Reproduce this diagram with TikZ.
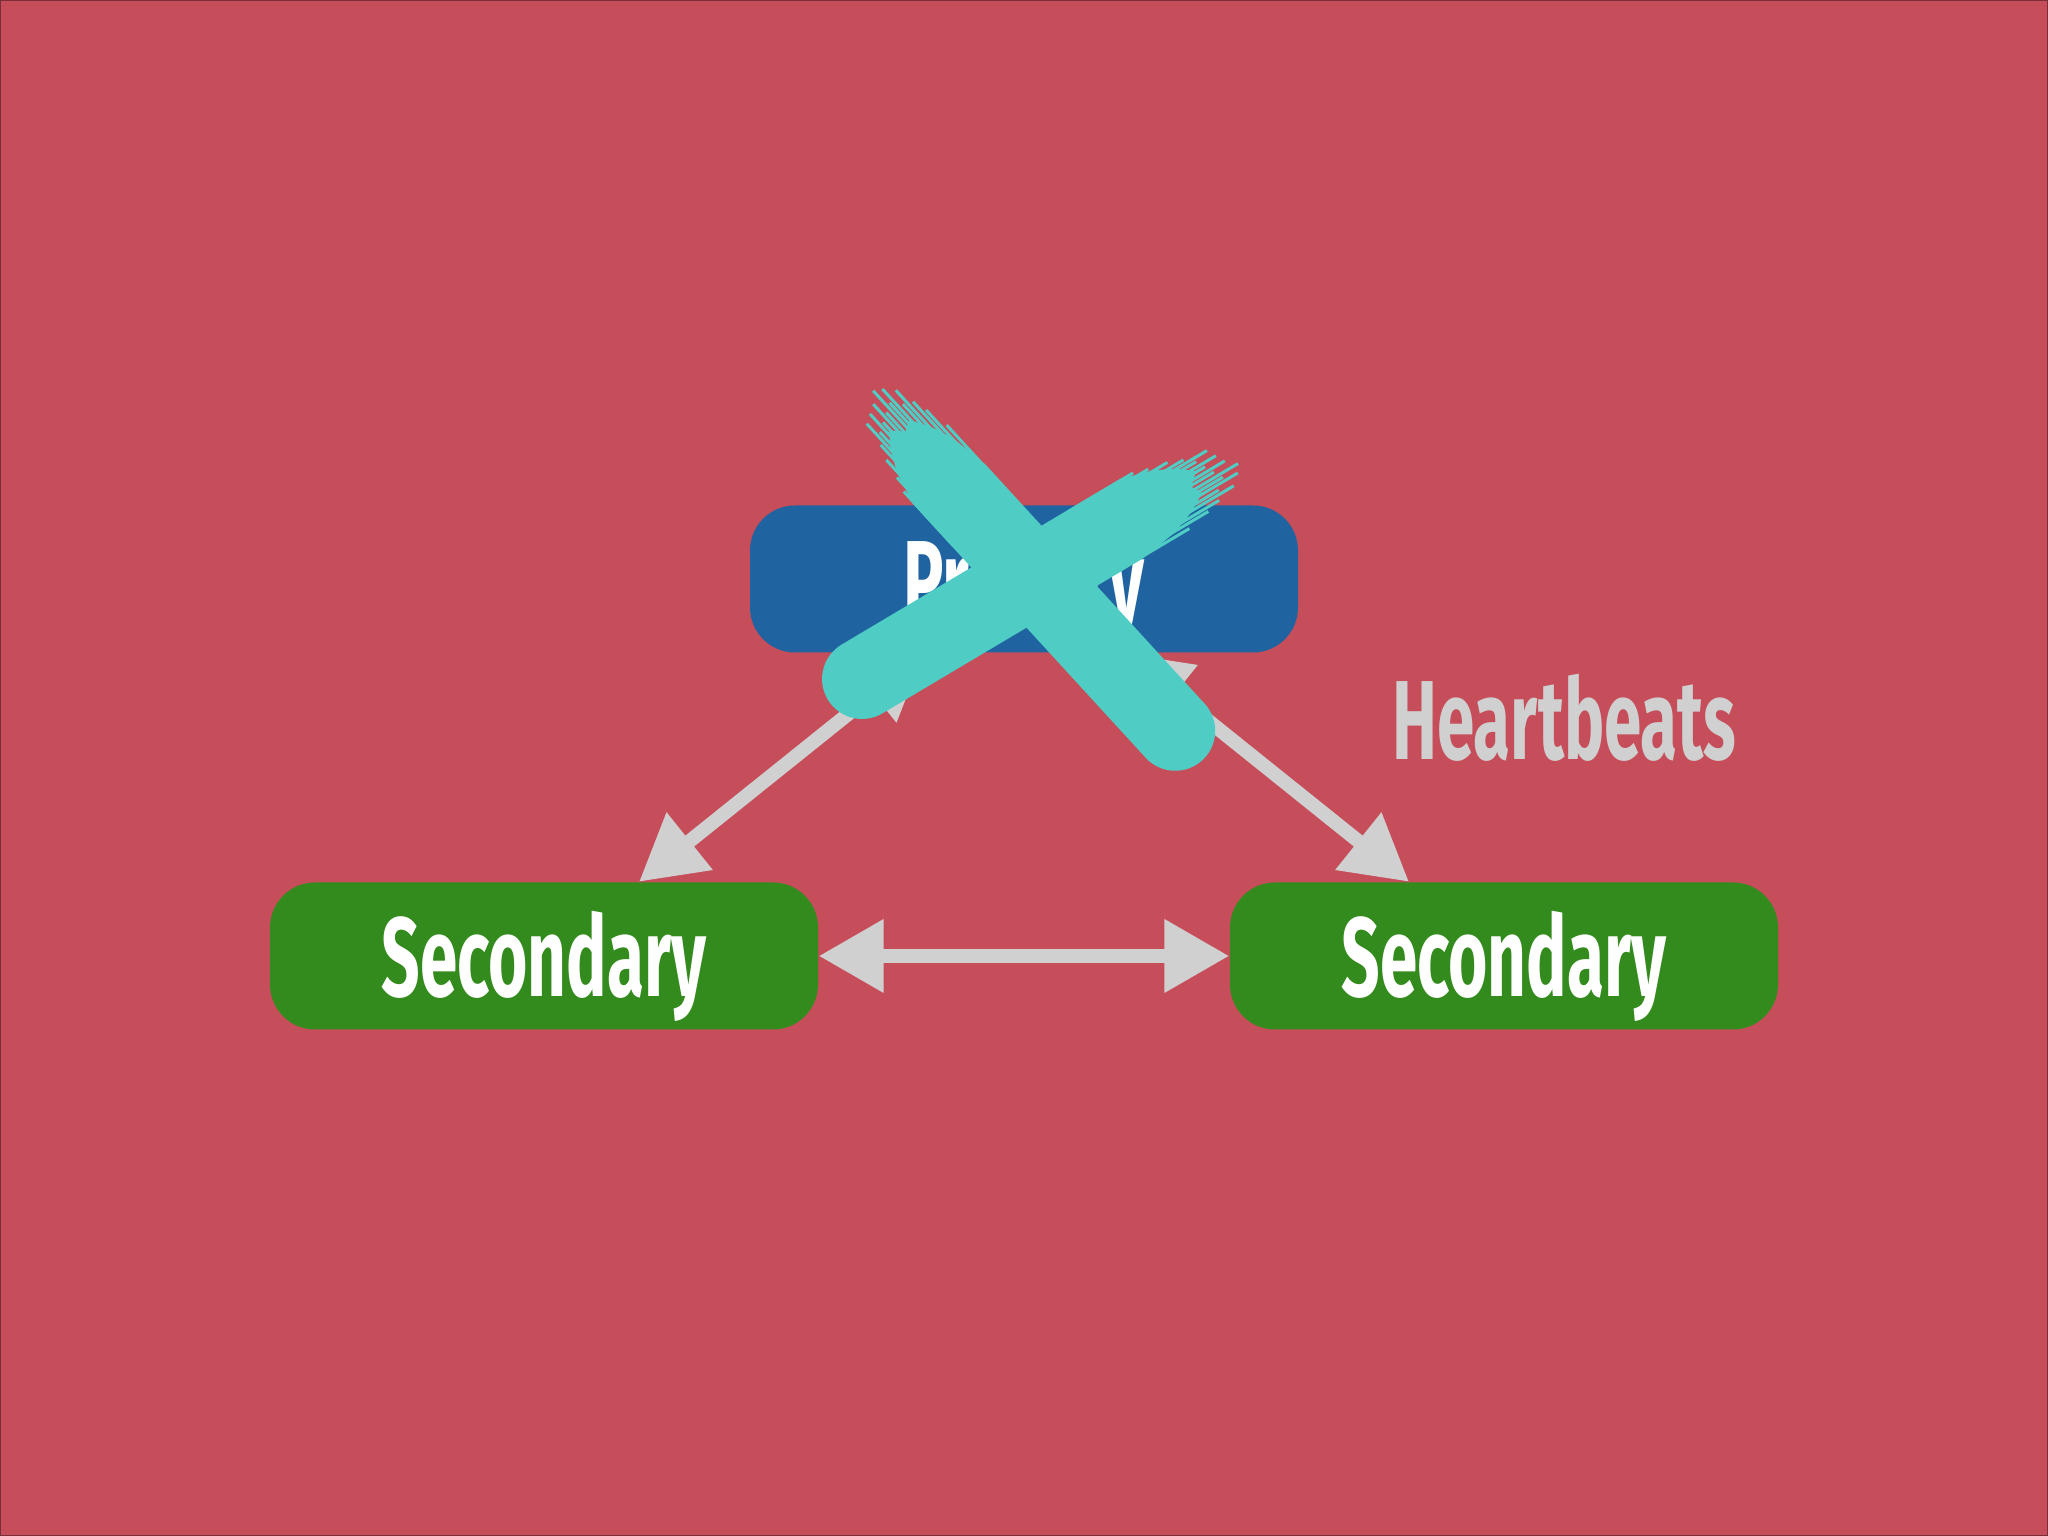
\documentclass[tikz,border=0pt]{standalone}
\usepackage{fontspec}
\newfontfamily\slidefont[FakeStretch=0.6]{Fira Sans}
\usetikzlibrary{arrows.meta}
\definecolor{slidered}{HTML}{C54E5A}
\definecolor{slideedge}{HTML}{7A2E36}
\definecolor{primblue}{HTML}{1F64A0}
\definecolor{secgreen}{HTML}{348B1D}
\definecolor{beatgray}{HTML}{D0D0D0}
\definecolor{crossteal}{HTML}{4FCDC4}
\begin{document}
\begin{tikzpicture}[
	box/.style={rounded corners=0.45cm, minimum width=5.48cm, minimum height=1.47cm, inner sep=0pt,
		text=white, text height=1.0cm, text depth=0.19cm, font=\slidefont\bfseries\fontsize{32}{38}\selectfont},
	beat/.style={draw=beatgray, line width=0.14cm,
		{Triangle[length=0.65cm,width=0.7cm]}-{Triangle[length=0.65cm,width=0.7cm]}},
	bristle/.style={crossteal, line width=0.03cm}
	]
	\useasboundingbox (0,0) rectangle (20.48,15.36);
	\fill[slidered, draw=slideedge, line width=0.02cm] (0,0) rectangle (20.48,15.36);
	\node[box, fill=primblue] (p) at (10.24,9.57) {Primary};
	\node[box, fill=secgreen] (s1) at (5.44,5.80) {Secondary};
	\node[box, fill=secgreen] (s2) at (15.04,5.80) {Secondary};
	\draw[beat] ([xshift=-1.0cm]p.south) -- ([xshift=0.95cm]s1.north);
	\draw[beat] ([xshift=1.0cm]p.south) -- ([xshift=-0.95cm]s2.north);
	\draw[beat] (s1.east) -- (s2.west);
	\node[anchor=base, text=beatgray, font=\slidefont\bfseries\fontsize{32}{38}\selectfont] (hb) at (15.645,7.76) {Heartbeats};
	%the cross over the primary: brush strokes, frayed end at x=0
	\foreach \tx/\ty/\ang/\len in {8.95/11.11/-47.5/4.148, 12.00/10.58/210.74/3.932}{
		\begin{scope}[shift={(\tx,\ty)}, rotate=\ang]
			\fill[crossteal] (0.9,0.40) -- (0.5,0.34) -- (0.25,0.25) -- (0.06,0.14) -- (0.12,0.03) -- (0,-0.08)
				-- (0.14,-0.19) -- (0.35,-0.30) -- (0.7,-0.40) -- (\len,-0.40)
				arc[start angle=-90, end angle=90, radius=0.40] -- cycle;
			\foreach \o/\s/\e in {0.38/0.35/1.2, 0.33/0.1/0.8, 0.29/-0.05/0.5, 0.24/-0.25/0.4, 0.20/-0.1/0.3,
				0.15/-0.35/0.2, 0.11/-0.2/0.3, 0.07/-0.4/0.2, 0.02/-0.15/0.3, -0.02/-0.3/0.2, -0.07/-0.1/0.3,
				-0.11/-0.25/0.3, -0.16/-0.05/0.3, -0.20/-0.2/0.4, -0.24/0.05/0.5, -0.30/0.2/0.6, -0.34/0.4/0.9, -0.385/0.55/1.3}
				\draw[bristle] (\s,\o) -- (\e,\o);
		\end{scope}
	}
\end{tikzpicture}
\end{document}
